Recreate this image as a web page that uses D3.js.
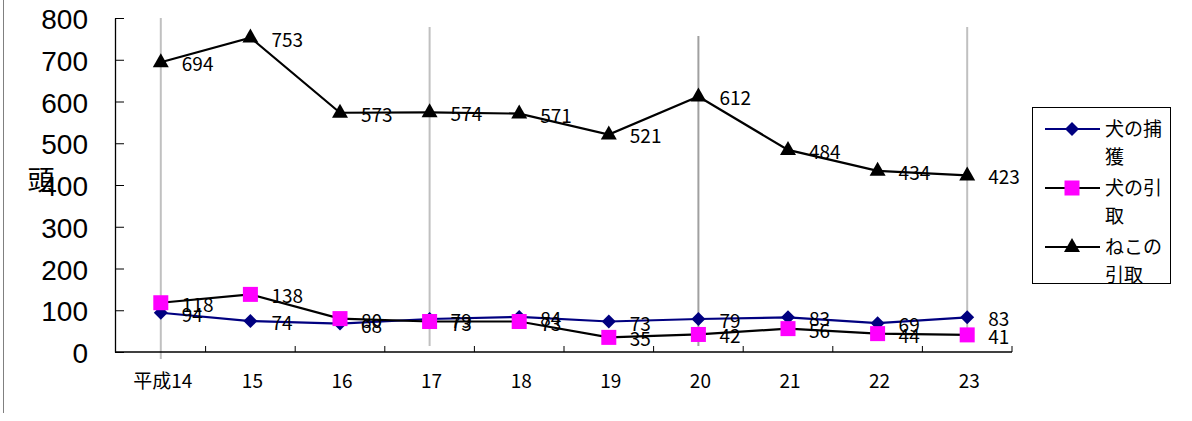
<!DOCTYPE html>
<html><head><meta charset="utf-8">
<script src="https://cdn.jsdelivr.net/npm/d3@7"></script>
<style>
body{margin:0;background:#fff;}
svg{display:block;}
</style></head>
<body>
<svg id="c" width="1192" height="421"></svg>
<script>
const categories = ["平成14","15","16","17","18","19","20","21","22","23"];
const dogCapture = [94, 74, 68, 79, 84, 73, 79, 83, 69, 83];
const dogIntake  = [118, 138, 80, 73, 73, 35, 42, 56, 44, 41];
const catIntake  = [694, 753, 573, 574, 571, 521, 612, 484, 434, 423];
const seriesNames = ["犬の捕獲", "犬の引取", "ねこの引取"];
const yTicks = [0,100,200,300,400,500,600,700,800];
const yTitle = "頭";
const grayLineCats = ["平成14","17","20","23"];

const svg = d3.select("#c");
const x0 = 115, yTop = 18, yBot = 352;
const x = d3.scaleBand().domain(categories).range([116, 1012]).padding(0);
const cx = c => x(c) + x.bandwidth()/2;
const y = d3.scaleLinear().domain([0,800]).range([yBot, yTop]);

const jp = "'Noto Sans CJK JP', sans-serif";

// left border line
svg.append("line").attr("x1",3.5).attr("x2",3.5).attr("y1",0).attr("y2",413)
  .attr("stroke","#808080").attr("stroke-width",1);

// gray vertical lines
const grayExt = {"平成14":[18,359,"#c0c0c0"],"17":[27,346,"#c0c0c0"],"20":[36,346,"#a0a0a0"],"23":[27,340,"#c0c0c0"]};
grayLineCats.forEach(c=>{
  const e = grayExt[c];
  svg.append("line").attr("x1",cx(c)).attr("x2",cx(c)).attr("y1",e[0]).attr("y2",e[1])
    .attr("stroke",e[2]).attr("stroke-width",2);
});

// y axis
const yAxis = d3.axisLeft(y).tickValues(yTicks).tickSizeInner(-9).tickSizeOuter(0).tickFormat(d3.format("d")).tickPadding(27);
const gy = svg.append("g").attr("transform",`translate(${x0},0)`).call(yAxis);
gy.select(".domain").attr("stroke","#000").attr("stroke-width",1.3);
gy.selectAll(".tick line").attr("stroke","#000");
gy.selectAll("text").attr("font-family","'Liberation Sans', Arial, sans-serif").attr("font-size",28).attr("fill","#000").attr("dy","0.38em");

// y title
svg.append("text").attr("x",41).attr("y",190).attr("text-anchor","middle")
  .attr("font-family",jp).attr("font-size",27).attr("fill","#000").text(yTitle);

// x axis
svg.append("line").attr("x1",x0).attr("x2",1012).attr("y1",yBot).attr("y2",yBot).attr("stroke","#000").attr("stroke-width",1.3);
const bounds = categories.map(c=>x(c)+x.bandwidth());
svg.selectAll(".xt").data(bounds).enter().append("line")
  .attr("x1",d=>d).attr("x2",d=>d).attr("y1",yBot-6).attr("y2",yBot).attr("stroke","#000");
svg.selectAll(".xl").data(categories).enter().append("text")
  .attr("x",d=>cx(d)+2).attr("y",388).attr("text-anchor","middle")
  .attr("font-family",jp).attr("font-size",19).attr("fill","#000").text(d=>d);

const line = d3.line().x((d,i)=>cx(categories[i])).y(d=>y(d));

const series = [
  {name:seriesNames[0], data:dogCapture, stroke:"#000080", marker:"diamond", fill:"#000080"},
  {name:seriesNames[1], data:dogIntake, stroke:"#000000", marker:"square", fill:"#ff00ff"},
  {name:seriesNames[2], data:catIntake, stroke:"#000000", marker:"triangle", fill:"#000000"}
];

function drawMarker(g, type, px, py, fill){
  if(type==="diamond"){
    g.append("path").attr("d",`M${px},${py-7}L${px+7},${py}L${px},${py+7}L${px-7},${py}Z`).attr("fill",fill);
  } else if(type==="square"){
    g.append("rect").attr("x",px-7.5).attr("y",py-7.5).attr("width",15).attr("height",15).attr("fill",fill);
  } else {
    g.append("path").attr("d",`M${px},${py-9}L${px+8},${py+5}L${px-8},${py+5}Z`).attr("fill",fill);
  }
}

series.forEach(s=>{
  svg.append("path").datum(s.data).attr("d",line).attr("fill","none")
    .attr("stroke",s.stroke).attr("stroke-width",2.2);
});
series.forEach(s=>{
  const g = svg.append("g");
  s.data.forEach((v,i)=>drawMarker(g,s.marker,cx(categories[i]),y(v),s.fill));
});
series.forEach(s=>{
  svg.append("g").selectAll("text").data(s.data).enter().append("text")
    .attr("x",(d,i)=>cx(categories[i])+21).attr("y",d=>y(d)+9)
    .attr("font-family",jp).attr("font-size",19).attr("fill","#000").text(d=>d);
});

// legend
const lg = svg.append("g");
lg.append("rect").attr("x",1032.5).attr("y",107.5).attr("width",138).attr("height",176)
  .attr("fill","#fff").attr("stroke","#000").attr("stroke-width",1);
const legendRows = [[seriesNames[0].slice(0,3), seriesNames[0].slice(3)],[seriesNames[1].slice(0,3), seriesNames[1].slice(3)],[seriesNames[2].slice(0,3), seriesNames[2].slice(3)]];
const legY = [129, 188, 247];
series.forEach((s,i)=>{
  const ly = legY[i];
  lg.append("line").attr("x1",1045).attr("x2",1100).attr("y1",ly).attr("y2",ly).attr("stroke",s.stroke).attr("stroke-width",2);
  drawMarker(lg.append("g"),s.marker,1072,ly,s.fill);
  lg.append("text").attr("x",1105).attr("y",ly+7).attr("font-family",jp).attr("font-size",19).text(legendRows[i][0]);
  lg.append("text").attr("x",1105).attr("y",ly+35).attr("font-family",jp).attr("font-size",19).text(legendRows[i][1]);
});
</script>
</body></html>
